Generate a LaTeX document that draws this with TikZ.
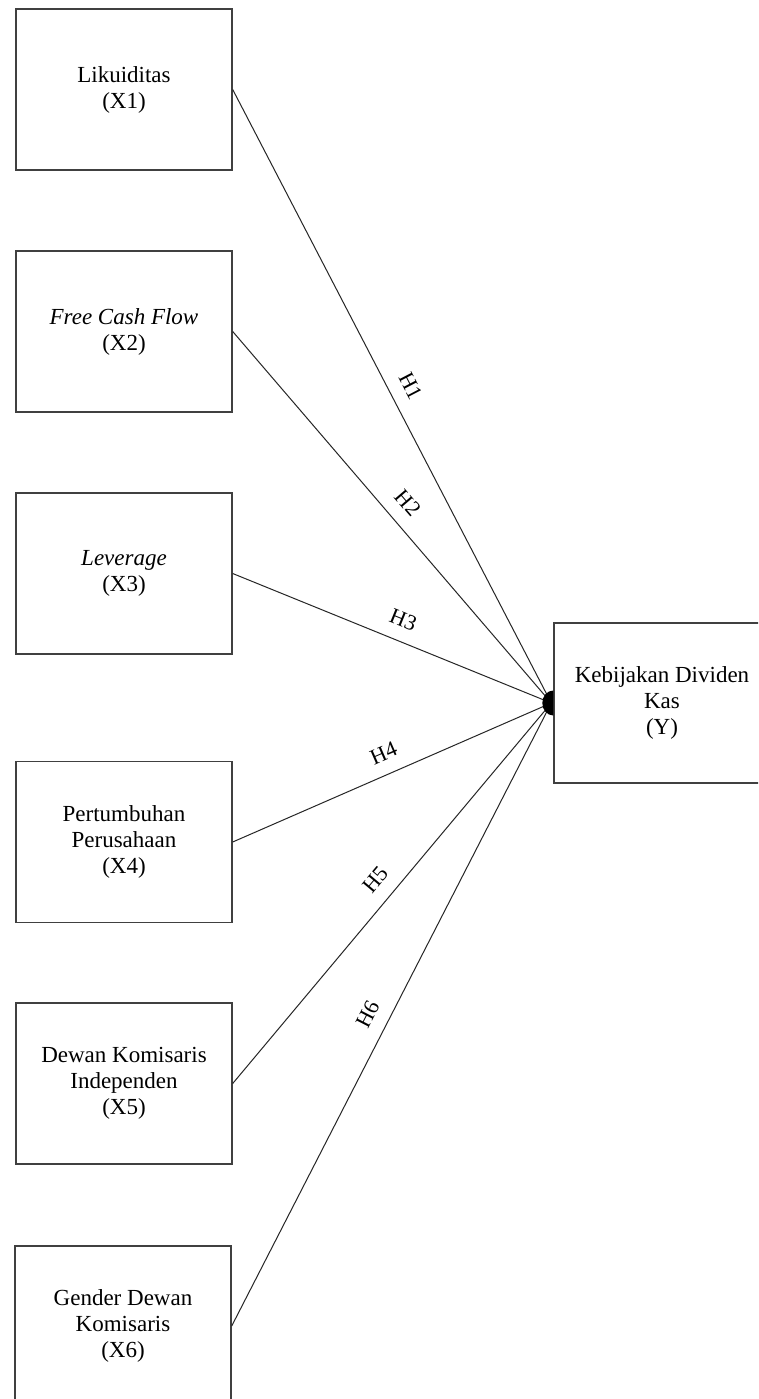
\documentclass[tikz,border=0pt]{standalone}
\usepackage{fontspec}
\setmainfont{Liberation Serif}
\begin{document}
\begin{tikzpicture}[x=1pt,y=-1pt,
  varbox/.style={draw=black!75, line width=1.4pt, minimum width=216pt, minimum height=161pt,
    align=center, inner sep=0pt, font=\fontsize{23}{26}\selectfont},
  link/.style={draw=black!85, line width=1pt},
  hlab/.style={sloped, above, inner sep=2pt, outer sep=12pt, font=\fontsize{22}{26}\selectfont}]
\useasboundingbox (0,0) rectangle (758,1399);
\clip (0,0) rectangle (758,1399);
\fill[white] (0,0) rectangle (758,1399);
\node[varbox] (x1) at (124,89.5) {Likuiditas\\(X1)};
\node[varbox] (x2) at (124,331.5) {\textit{Free Cash Flow}\\(X2)};
\node[varbox] (x3) at (124,573.5) {\textit{Leverage}\\(X3)};
\node[varbox] (x4) at (124,842) {Pertumbuhan\\Perusahaan\\(X4)};
\node[varbox] (x5) at (124,1083.5) {Dewan Komisaris\\Independen\\(X5)};
\node[varbox, minimum height=160pt] (x6) at (123,1326) {Gender Dewan\\Komisaris\\(X6)};
\node[varbox, minimum height=160pt, minimum width=216pt] (y) at (662,703) {Kebijakan Dividen\\Kas\\(Y)};
\coordinate (hub) at ([xshift=-2pt]y.west);
\draw[link] (x1.east) -- node[hlab, pos=0.50] {H1} (hub);
\draw[link] (x2.east) -- node[hlab, pos=0.50] {H2} (hub);
\draw[link] (x3.east) -- node[hlab, pos=0.51] {H3} (hub);
\draw[link] (x4.east) -- node[hlab, pos=0.50] {H4} (hub);
\draw[link] (x5.east) -- node[hlab, pos=0.50] {H5} (hub);
\draw[link] (x6.east) -- node[hlab, pos=0.485] {H6} (hub);
\fill[black] (y.west) ++(0,-12.5) arc[start angle=90, end angle=270, x radius=11, y radius=-12.5] -- cycle;
\end{tikzpicture}
\end{document}
